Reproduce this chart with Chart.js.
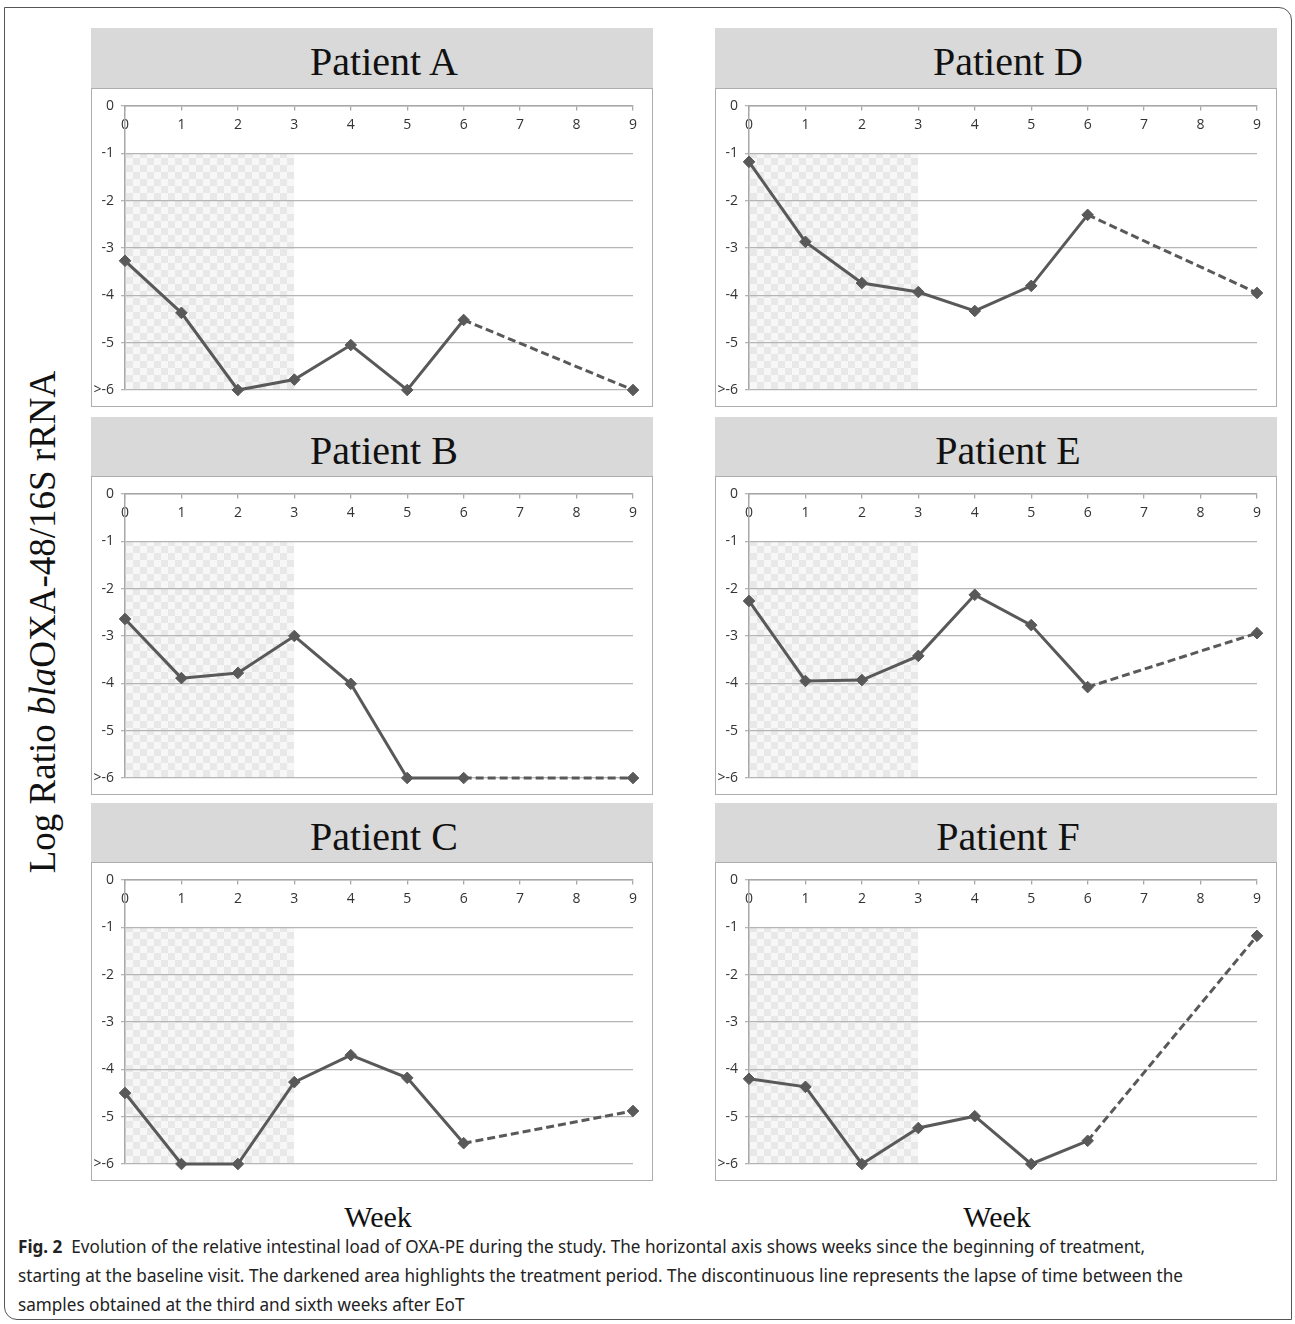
<!DOCTYPE html>
<html><head><meta charset="utf-8">
<script src="https://cdn.jsdelivr.net/npm/chart.js@4.4.1/dist/chart.umd.min.js"></script>
<style>
html,body{margin:0;padding:0;background:#fff;}
body{width:1295px;height:1324px;position:relative;overflow:hidden;}
#frame{position:absolute;left:4px;top:7px;width:1288px;height:1313px;border:1.5px solid #555;border-radius:0 13px 0 13px;box-sizing:border-box;}
.hdr{position:absolute;background:#d9d9d9;height:60px;width:562px;font-family:'Liberation Serif','Times New Roman',serif;font-size:40px;color:#111;display:flex;align-items:center;justify-content:center;padding-top:6px;padding-left:24px;box-sizing:border-box;}
.box{position:absolute;border:1.5px solid #adadad;box-sizing:border-box;width:562px;height:319px;background:#fff;}
canvas{position:absolute;}
#ytitle{position:absolute;left:42px;top:622px;transform:translate(-50%,-50%) rotate(-90deg);white-space:nowrap;font-family:'Liberation Serif','Times New Roman',serif;font-size:37px;color:#111;}
.week{position:absolute;top:1200px;font-family:'Liberation Serif','Times New Roman',serif;font-size:30px;color:#111;transform:translateX(-50%);white-space:nowrap;}
.cap{position:absolute;left:18px;white-space:nowrap;font-family:'Noto Sans','Open Sans',sans-serif;font-size:18.5px;color:#222;transform-origin:0 50%;line-height:27px;}
</style>
</head><body>
<div id="frame"></div>
<div id="panels"></div>
<div id="ytitle">Log Ratio <i>bla</i>OXA-48/16S rRNA</div>
<div class="week" style="left:378px">Week</div>
<div class="week" style="left:997px">Week</div>
<div class="cap" id="cap1" style="top:1232px"><b>Fig. 2</b>&nbsp; Evolution of the relative intestinal load of OXA-PE during the study. The horizontal axis shows weeks since the beginning of treatment,</div>
<div class="cap" id="cap2" style="top:1261px">starting at the baseline visit. The darkened area highlights the treatment period. The discontinuous line represents the lapse of time between the</div>
<div class="cap" id="cap3" style="top:1290px">samples obtained at the third and sixth weeks after EoT</div>
<script>
// ---- data ----
const weeks = [0, 1, 2, 3, 4, 5, 6, 9];
const patientA = [-3.27, -4.37, -6, -5.78, -5.05, -6, -4.52, -6];
const patientB = [-2.64, -3.89, -3.78, -3.0, -4.01, -6, -6, -6];
const patientC = [-4.5, -6, -6, -4.27, -3.70, -4.18, -5.56, -4.88];
const patientD = [-1.18, -2.87, -3.74, -3.93, -4.33, -3.80, -2.30, -3.95];
const patientE = [-2.26, -3.95, -3.93, -3.42, -2.13, -2.77, -4.08, -2.94];
const patientF = [-4.20, -4.37, -6, -5.24, -4.99, -6, -5.51, -1.18];
const yTicks = ['0', '-1', '-2', '-3', '-4', '-5', '>-6'];
const xTicks = ['0','1','2','3','4','5','6','7','8','9'];
const treatment = {start: 0, end: 3, top: -1, bottom: -6};
const dashFromWeek = 6;

const panels = [
  {title: 'Patient A', values: patientA, left: 91, hdrTop: 28, boxTop: 88},
  {title: 'Patient D', values: patientD, left: 715, hdrTop: 28, boxTop: 88},
  {title: 'Patient B', values: patientB, left: 91, hdrTop: 417, boxTop: 476},
  {title: 'Patient E', values: patientE, left: 715, hdrTop: 417, boxTop: 476},
  {title: 'Patient C', values: patientC, left: 91, hdrTop: 803, boxTop: 862},
  {title: 'Patient F', values: patientF, left: 715, hdrTop: 803, boxTop: 862}
];

// checker pattern
function makePattern() {
  const c = document.createElement('canvas');
  c.width = 14; c.height = 14;
  const g = c.getContext('2d');
  g.fillStyle = '#f7f7f7'; g.fillRect(0, 0, 14, 14);
  g.fillStyle = '#e8e8e8'; g.fillRect(0, 0, 7, 7); g.fillRect(7, 7, 7, 7);
  return g.createPattern(c, 'repeat');
}

const tickFont = {family: 'Open Sans', size: 14};
const host = document.getElementById('panels');
panels.forEach((p, idx) => {
  const h = document.createElement('div');
  h.className = 'hdr'; h.style.left = p.left + 'px'; h.style.top = p.hdrTop + 'px';
  h.textContent = p.title; host.appendChild(h);
  const b = document.createElement('div');
  b.className = 'box'; b.style.left = p.left + 'px'; b.style.top = p.boxTop + 'px';
  host.appendChild(b);
  const cv = document.createElement('canvas');
  cv.width = 562; cv.height = 319;
  cv.style.left = p.left + 'px'; cv.style.top = p.boxTop + 'px';
  host.appendChild(cv);
  const pattern = makePattern();
  new Chart(cv, {
    type: 'line',
    data: {
      datasets: [
        {
          label: 'treatment',
          data: [{x: treatment.start, y: treatment.top}, {x: treatment.end, y: treatment.top}],
          fill: {value: treatment.bottom},
          backgroundColor: pattern,
          borderWidth: 0, pointRadius: 0, order: 2
        },
        {
          label: p.title,
          data: weeks.map((w, i) => ({x: w, y: p.values[i]})),
          borderColor: '#595959', borderWidth: 3,
          pointStyle: 'rectRot', pointRadius: 5.8,
          pointBackgroundColor: '#595959', pointBorderColor: '#595959', pointBorderWidth: 1,
          clip: false, tension: 0, fill: false, order: 1,
          segment: {borderDash: c => c.p0.parsed.x >= dashFromWeek ? [8, 4] : undefined}
        }
      ]
    },
    options: {
      responsive: false, animation: false, devicePixelRatio: 1,
      layout: {padding: {left: 0, right: 20, top: 18, bottom: 17}},
      plugins: {legend: {display: false}, tooltip: {enabled: false}, filler: {drawTime: 'beforeDraw'}},
      scales: {
        x: {
          type: 'linear', min: 0, max: 9, position: {y: 0},
          afterFit: s => { s.height = 0; },
          ticks: {stepSize: 1, padding: 7, maxRotation: 0, autoSkip: false,
            callback: v => xTicks[v] !== undefined ? xTicks[v] : '',
            font: tickFont, color: '#333'},
          grid: {drawOnChartArea: false, drawTicks: true, tickLength: 4, color: '#a8a8a8', lineWidth: 1.3},
          border: {display: true, color: '#a8a8a8', width: 1.5}
        },
        y: {
          type: 'linear', min: -6, max: 0, position: 'left',
          afterFit: s => { s.width = 34; },
          ticks: {stepSize: 1, padding: 7,
            callback: v => yTicks[-v] !== undefined ? yTicks[-v] : '',
            font: tickFont, color: '#333'},
          grid: {color: '#b5b5b5', lineWidth: 1.3, tickLength: 4},
          border: {display: true, color: '#a8a8a8', width: 1.5}
        }
      }
    }
  });
});

// fit caption lines: one common horizontal scale taken from line 2
const ref = document.getElementById('cap2');
const w2 = ref.getBoundingClientRect().width;
const s = w2 > 0 ? (1183 - 18) / w2 : 1;
['cap1', 'cap2', 'cap3'].forEach(id => {
  document.getElementById(id).style.transform = 'scaleX(' + s + ')';
});
</script>
</body></html>
